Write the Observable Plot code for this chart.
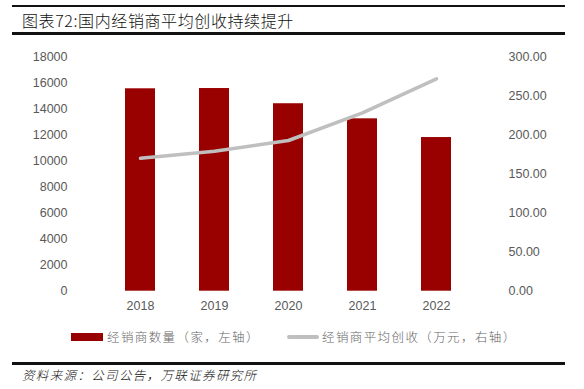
<!DOCTYPE html>
<html>
<head>
<meta charset="utf-8">
<script src="https://cdn.jsdelivr.net/npm/d3@7"></script>
<script src="https://cdn.jsdelivr.net/npm/@observablehq/plot@0.6"></script>
<style>
  html, body { margin: 0; padding: 0; background: #fff; }
  #wrap { position: relative; width: 584px; height: 389px; overflow: hidden; font-family: "Noto Sans CJK SC", "Noto Sans", sans-serif; }
  .rule { position: absolute; left: 12px; width: 553px; background: #111; }
  #title { position: absolute; left: 22px; top: 9px; font-size: 16px; line-height: 22px; color: #111; white-space: nowrap; font-weight: 300; letter-spacing: 0.6px; }
  #chart { position: absolute; left: 0; top: 0; }
  .leg { position: absolute; top: 327px; font-size: 12.5px; line-height: 20px; color: #666; letter-spacing: 1.4px; white-space: nowrap; font-weight: 300; }
  #caption { position: absolute; left: 22px; top: 366px; font-size: 12.5px; line-height: 18px; color: #111; font-style: italic; letter-spacing: 1.35px; white-space: nowrap; font-weight: 300; }
</style>
</head>
<body>
<div id="wrap">
  <div class="rule" style="top:5px;height:2px"></div>
  <div id="title">图表72:国内经销商平均创收持续提升</div>
  <div class="rule" style="top:32px;height:3px"></div>
  <div id="chart"></div>
  <div style="position:absolute;left:71px;top:333px;width:32px;height:8px;background:#990000"></div>
  <div class="leg" style="left:107px">经销商数量（家，左轴）</div>
  <div style="position:absolute;left:287px;top:335px;width:32px;height:4px;border-radius:2px;background:#BFBFBF"></div>
  <div class="leg" style="left:322px">经销商平均创收（万元，右轴）</div>
  <div class="rule" style="top:362px;height:2.5px"></div>
  <div id="caption">资料来源：公司公告，万联证券研究所</div>
</div>
<script>
const years = ["2018", "2019", "2020", "2021", "2022"];
const dealerCount = [15570, 15590, 14420, 13260, 11820];
const avgRevenue = [170.5, 179.5, 193.2, 228.7, 272.3];
const leftTicks = [0, 2000, 4000, 6000, 8000, 10000, 12000, 14000, 16000, 18000];
const rightTicks = [0, 50, 100, 150, 200, 250, 300];
const leftMax = 18000;
const rightMax = 300;

const k = leftMax / rightMax;
const rows = years.map((y, i) => ({ year: y, count: dealerCount[i], rev: avgRevenue[i], revScaled: avgRevenue[i] * k }));

const plot = Plot.plot({
  width: 584,
  height: 330,
  marginTop: 56.7,
  marginBottom: 39.3,
  marginLeft: 79,
  marginRight: 87,
  style: { fontFamily: "'Liberation Sans', Arial, sans-serif", fontSize: "12.5px", color: "#595959", background: "transparent" },
  x: { domain: years, padding: 0.6, label: null },
  y: { domain: [0, leftMax], label: null },
  marks: [
    Plot.barY(rows, { x: "year", y: "count", fill: "#990000" }),
    Plot.line(rows, { x: "year", y: "revScaled", stroke: "#BFBFBF", strokeWidth: 3.5, strokeLinecap: "round", strokeLinejoin: "round" }),
    Plot.axisX({ tickSize: 0, tickPadding: 10, label: null, fill: "#595959" }),
    Plot.axisY({ anchor: "left", ticks: leftTicks, tickFormat: d => String(d), tickSize: 0, tickPadding: 12, label: null, fill: "#595959" }),
    Plot.axisY({ anchor: "right", ticks: rightTicks.map(v => v * k), tickFormat: d => (d / k).toFixed(2), tickSize: 0, tickPadding: 11, label: null, fill: "#595959", letterSpacing: 1 })
  ]
});
document.getElementById("chart").appendChild(plot);
</script>
</body>
</html>
